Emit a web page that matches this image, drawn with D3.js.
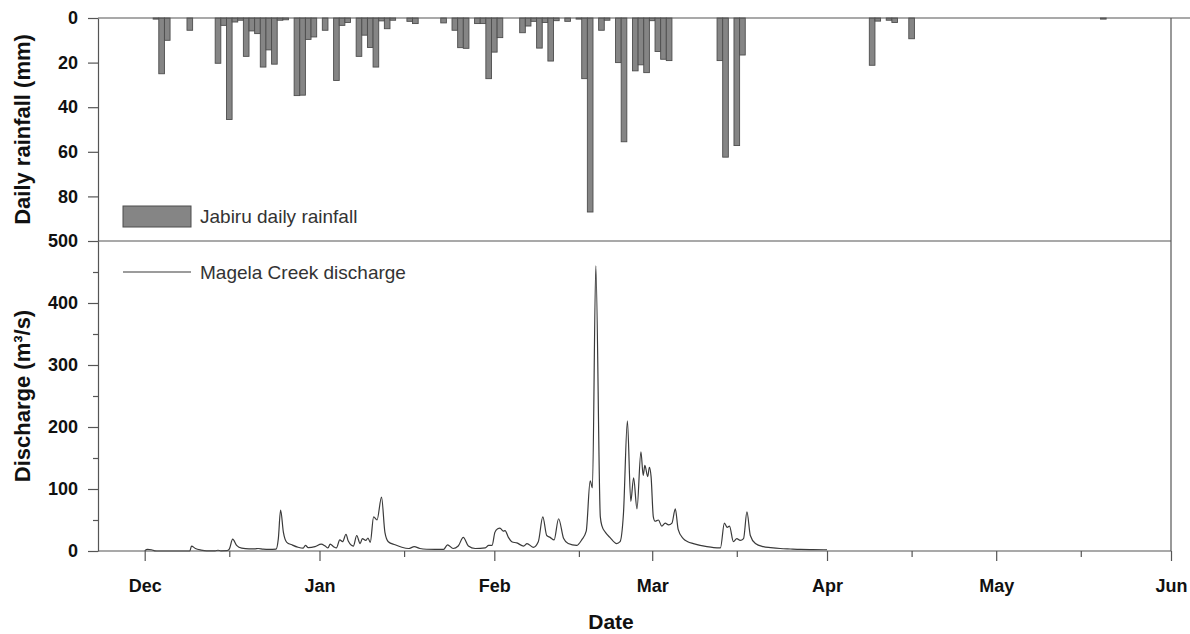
<!DOCTYPE html>
<html>
<head>
<meta charset="utf-8">
<script src="https://cdn.jsdelivr.net/npm/d3@7"></script>
<style>
  body { margin: 0; background: #fff; }
  svg { display: block; font-family: "Liberation Sans", Arial, sans-serif; }
</style>
</head>
<body>
<div class="chart"></div>
<script>
// daily rainfall, days counted from 1 Dec
const rainDays = [2, 3, 4, 8, 13, 14, 15, 16, 17, 18, 19, 20, 21, 22, 23, 24, 25, 27, 28, 29, 30,
    32, 34, 35, 36, 38, 39, 40, 41, 42, 43, 44, 47, 48, 53, 55, 56, 57, 59, 60, 61, 62, 63,
    67, 68, 69, 70, 71, 72, 73, 75, 77, 78, 79, 81, 82, 84, 85, 87, 88, 89, 90, 91, 92, 93,
    102, 103, 105, 106, 129, 130, 132, 133, 136, 170];
const rainMm = [0.5, 25, 10, 5.5, 20.3, 3.3, 45.5, 1.8, 1, 17.2, 5.8, 7, 22, 14.3, 20.7, 1, 0.8, 34.8, 34.6, 9.6, 8.5,
    5.5, 28, 3.3, 2, 17.2, 7.7, 13.2, 22, 1.3, 4.8, 1, 1.5, 2.5, 2.2, 5.5, 13.3, 13.6, 2.5, 2.5, 27.2, 15.3, 8.8,
    6.6, 3.6, 1.5, 13.5, 2, 19.3, 1.2, 1.5, 0.5, 27.2, 87, 5.5, 1, 20, 55.5, 23.7, 21, 24.5, 1.2, 15, 18.5, 19.1,
    19.1, 62.4, 57.2, 16.6, 21.2, 1.4, 1, 2, 9.3, 0.5];

// Magela Creek discharge (m3/s), time in days from 1 Dec
const flowDays = [0, 0.5, 1.2, 1.8, 2.5, 8, 8.3, 9, 10, 11, 12.5, 13, 13.5, 14.6, 15, 15.6, 16.3, 17.2, 18.5,
    19.6, 20.1, 21, 22, 23.3, 23.7, 24.1, 24.6, 25.2, 26.1, 27.2, 28.1, 28.5, 29, 30.2, 31.3, 32, 32.5,
    32.9, 33.5, 34, 34.6, 35.1, 35.7, 36.1, 37, 37.6, 38.2, 38.6, 39.2, 39.6, 40, 40.6, 41.2, 42, 42.6,
    43.2, 44.4, 45.6, 46.8, 47.8, 48.8, 50, 53, 53.7, 54.7, 55.6, 56.5, 57.4, 58.6, 60.4, 61, 61.6, 62.1,
    62.6, 63, 63.6, 63.9, 64.5, 65.1, 66, 67.2, 67.8, 68.9, 69.8, 70.6, 71.3, 71.9, 72.6, 73.4, 74.3,
    75.1, 76.6, 77.5, 78.3, 79, 79.4, 80, 80.8, 81.1, 81.7, 82.5, 83.7, 84.3, 84.9, 85.6, 86.2, 86.7,
    87.3, 88, 88.4, 88.7, 89.2, 89.5, 89.8, 90.2, 90.5, 91.1, 91.7, 92.3, 92.9, 93.5, 94.1, 94.6, 95.5,
    96.3, 97.3, 98.5, 99.7, 100.9, 102.1, 102.8, 103.3, 103.7, 104.4, 105, 105.6, 106.2, 106.8, 107.4,
    108.3, 109.7, 111, 112.7, 114.5, 116.3, 118.5, 121];
const flowQ = [0.5, 2.5, 2, 0.3, 0, 0, 8, 4, 1.5, 0.3, 0.3, 1.2, 0.3, 0.5, 3, 19, 9, 4.5, 3.5,
    3.5, 4, 3, 2.5, 3, 20, 66, 30, 14, 10, 6, 4.5, 9, 5.5, 7, 11, 8, 5,
    11, 7, 5, 18, 15, 27, 16, 8, 25, 12, 20, 17, 21, 14, 55, 50, 87, 30,
    15, 10, 6, 4, 7, 4, 2.8, 2.5, 10, 4, 8, 22, 8, 4, 5, 9, 9, 30,
    36, 37, 32, 33, 22, 15, 13, 8, 12, 6, 15, 55, 25, 22, 18, 52, 20,
    12, 9, 18, 32, 113, 102, 460, 55, 40, 30, 22, 12, 15, 60, 210, 80, 118,
    68, 160, 122, 138, 120, 135, 120, 55, 48, 50, 40, 45, 42, 45, 68, 35, 20,
    15, 12, 9, 7, 5.5, 5, 45, 38, 40, 15, 20, 17, 20, 63, 25,
    12, 7, 5.5, 4, 3.2, 2.5, 2.2, 2];

const monthLabels = ["Dec", "Jan", "Feb", "Mar", "Apr", "May", "Jun"];
const rainTicks = [0, 20, 40, 60, 80];
const flowTicks = [0, 100, 200, 300, 400, 500];
const flowMinorTicks = [50, 150, 250, 350, 450];

class HydroChart {

    static width = 1190;
    static height = 634;
    static left = 98;
    static right = 1171;
    static top = 18;
    static mid = 241;
    static bottom = 551;
    static axisColor = "#555";
    static origin = new Date(2006, 11, 1);

    svg;
    x;
    yRain;
    yFlow;

    constructor(selector) {
        this.svg = d3.select(selector).append("svg")
            .attr("width", HydroChart.width)
            .attr("height", HydroChart.height);
        this.setUpScales();
    }

    dayToDate(d) {
        return d3.timeMinute.offset(HydroChart.origin, Math.round(d * 1440));
    }

    setUpScales() {
        this.x = d3.scaleTime()
            .domain([this.dayToDate(-8.28), new Date(2007, 5, 1)])
            .range([HydroChart.left, HydroChart.right]);
        this.yRain = d3.scaleLinear().domain([0, 100]).range([HydroChart.top, HydroChart.mid]);
        this.yFlow = d3.scaleLinear().domain([0, 500]).range([HydroChart.bottom, HydroChart.mid]);
    }

    drawBars() {
        const bars = rainDays.map((d, i) => ({day: d, mm: rainMm[i]}));
        this.svg.append("g").selectAll("rect")
            .data(bars)
            .join("rect")
            .attr("x", d => this.x(this.dayToDate(d.day - 0.5)))
            .attr("width", d => this.x(this.dayToDate(d.day + 0.5)) - this.x(this.dayToDate(d.day - 0.5)))
            .attr("y", this.yRain(0))
            .attr("height", d => this.yRain(d.mm) - this.yRain(0))
            .attr("fill", "#858585")
            .attr("stroke", "#4d4d4d")
            .attr("stroke-width", 0.9);
    }

    drawLine() {
        const pts = flowDays.map((d, i) => ({date: this.dayToDate(d), q: flowQ[i]}));
        const line = d3.line()
            .x(d => this.x(d.date))
            .y(d => this.yFlow(d.q))
            .curve(d3.curveMonotoneX);
        this.svg.append("path")
            .datum(pts)
            .attr("d", line)
            .attr("fill", "none")
            .attr("stroke", "#3a3a3a")
            .attr("stroke-width", 1.2)
            .attr("stroke-linejoin", "round");
    }

    styleAxis(g) {
        g.selectAll("path, line").attr("stroke", HydroChart.axisColor).attr("stroke-width", 1.2);
        g.selectAll("text")
            .attr("fill", "#111")
            .attr("font-size", 18)
            .attr("font-weight", "bold");
    }

    drawAxes() {
        const L = HydroChart.left, R = HydroChart.right;

        this.svg.append("g")
            .attr("transform", `translate(${L},0)`)
            .call(d3.axisLeft(this.yRain).tickValues(rainTicks).tickSize(10).tickPadding(10).tickSizeOuter(0))
            .call(g => this.styleAxis(g));

        this.svg.append("g")
            .attr("transform", `translate(${L},0)`)
            .call(d3.axisLeft(this.yFlow).tickValues(flowTicks).tickSize(10).tickPadding(10).tickSizeOuter(0))
            .call(g => this.styleAxis(g));

        this.svg.append("g")
            .attr("transform", `translate(${L},0)`)
            .call(d3.axisLeft(this.yFlow).tickValues(flowMinorTicks).tickSize(5).tickFormat("").tickSizeOuter(0))
            .call(g => this.styleAxis(g))
            .call(g => g.select(".domain").remove());

        const months = d3.timeMonth.range(new Date(2006, 11, 1), new Date(2007, 5, 2));
        const mids = months.slice(0, -1).map(m => d3.timeDay.offset(m, 15));

        this.svg.append("g")
            .attr("transform", `translate(0,${HydroChart.bottom})`)
            .call(d3.axisBottom(this.x).tickValues(months).tickSize(10).tickPadding(18)
                .tickFormat((d, i) => monthLabels[i]).tickSizeOuter(0))
            .call(g => this.styleAxis(g))
            .call(g => g.select(".domain").remove());

        this.svg.append("g")
            .attr("transform", `translate(0,${HydroChart.bottom})`)
            .call(d3.axisBottom(this.x).tickValues(mids).tickSize(6).tickFormat("").tickSizeOuter(0))
            .call(g => this.styleAxis(g))
            .call(g => g.select(".domain").remove());

        // frame
        const frame = [
            [L, HydroChart.top, HydroChart.width, HydroChart.top],
            [L, HydroChart.mid, R, HydroChart.mid],
            [L, HydroChart.bottom, R, HydroChart.bottom],
            [R, HydroChart.top, R, HydroChart.bottom]
        ];
        this.svg.append("g").selectAll("line")
            .data(frame)
            .join("line")
            .attr("x1", d => d[0]).attr("y1", d => d[1])
            .attr("x2", d => d[2]).attr("y2", d => d[3])
            .attr("stroke", HydroChart.axisColor)
            .attr("stroke-width", 1.2);
    }

    drawTitles() {
        const titles = [
            {text: "Daily rainfall (mm)", y: (HydroChart.top + HydroChart.mid) / 2},
            {text: "Discharge (m³/s)", y: (HydroChart.mid + HydroChart.bottom) / 2}
        ];
        this.svg.append("g").selectAll("text")
            .data(titles)
            .join("text")
            .attr("transform", d => `translate(30,${d.y}) rotate(-90)`)
            .attr("text-anchor", "middle")
            .attr("font-size", 22)
            .attr("font-weight", "bold")
            .attr("fill", "#111")
            .text(d => d.text);

        this.svg.append("text")
            .attr("x", 611)
            .attr("y", 629)
            .attr("text-anchor", "middle")
            .attr("font-size", 21)
            .attr("font-weight", "bold")
            .attr("fill", "#111")
            .text("Date");
    }

    drawLegends() {
        const lg = this.svg.append("g");
        lg.append("rect")
            .attr("x", 123).attr("y", 206)
            .attr("width", 68).attr("height", 21)
            .attr("fill", "#858585")
            .attr("stroke", "#4d4d4d");
        lg.append("text")
            .attr("x", 200).attr("y", 223)
            .attr("font-size", 19)
            .attr("fill", "#333")
            .text("Jabiru daily rainfall");

        lg.append("line")
            .attr("x1", 123).attr("x2", 191)
            .attr("y1", 272).attr("y2", 272)
            .attr("stroke", "#3a3a3a")
            .attr("stroke-width", 1.2);
        lg.append("text")
            .attr("x", 200).attr("y", 279)
            .attr("font-size", 19)
            .attr("fill", "#333")
            .text("Magela Creek discharge");
    }

    static launch() {
        const chart = new HydroChart(".chart");
        chart.drawBars();
        chart.drawLine();
        chart.drawAxes();
        chart.drawTitles();
        chart.drawLegends();
    }
}

HydroChart.launch();
</script>
</body>
</html>
